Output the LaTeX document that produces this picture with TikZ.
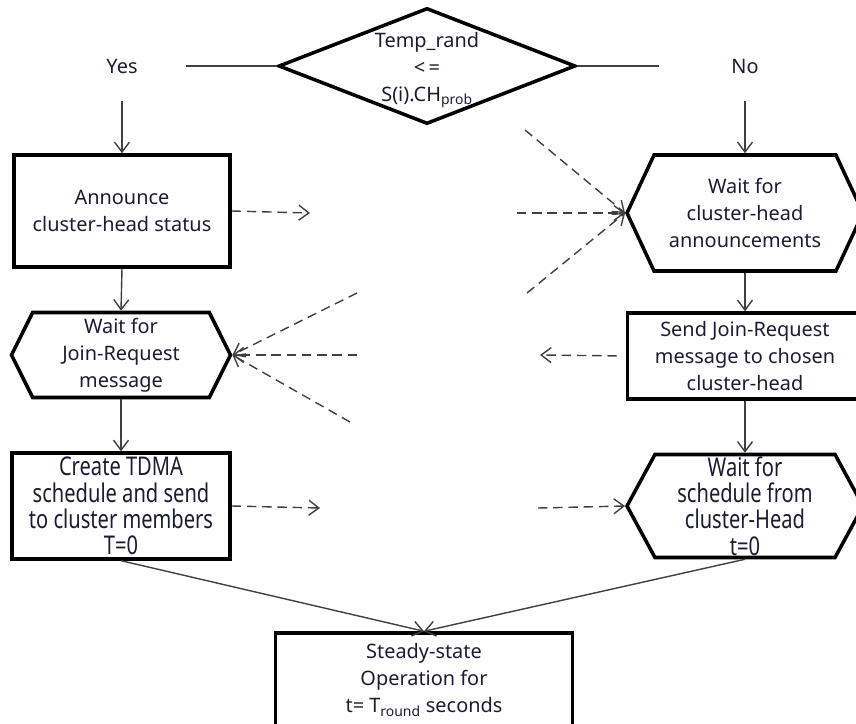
\documentclass[tikz,border=0pt]{standalone}
\usepackage{fontspec}
\setmainfont{Noto Sans}
\newfontfamily\narrowfont[FakeStretch=0.78]{Noto Sans}
\usepackage{tikz}
\usetikzlibrary{arrows.meta, positioning, shapes.geometric, shapes.symbols}
\definecolor{Ink}{HTML}{1C1C30}
\definecolor{LineGray}{HTML}{404040}

\begin{document}
\begin{tikzpicture}[x=0.03cm, y=-0.03cm, >={Straight Barb[length=3mm,width=4.5mm]}, font=\fontsize{17}{23}\selectfont, text=Ink]
        \tikzstyle{decision} = [diamond, draw=black, line width=3pt, minimum width=8.91cm, minimum height=3.48cm, inner sep=0pt]
        \tikzstyle{proc}     = [rectangle, draw=black, line width=3pt, align=center]
        \tikzstyle{waitbox}  = [signal, signal to=west and east, draw=black, line width=3pt, align=center, inner sep=0pt]
        \tikzstyle{branch}   = [minimum height=2.1cm, inner sep=0pt]
        \tikzstyle{narrow}   = [font=\narrowfont\fontsize{22}{22.5}\selectfont]
        \tikzstyle{flow}     = [->, draw=LineGray, line width=1.2pt]
        \tikzstyle{msg}      = [->, draw=LineGray, line width=1.2pt, dash pattern=on 8pt off 5pt]

        \useasboundingbox (0,0) rectangle (856,724);

        % Decision
        \node[decision, label={[align=center, yshift=-3.5pt]center:{Temp\_rand\\<\,=\\S(i).CH\textsubscript{prob}}}] (test) at (427,66) {};
        \node[branch, minimum width=3.84cm] (yes) at (122,66) {Yes};
        \node[branch, minimum width=5.16cm] (no) at (745,66) {No};

        % Cluster-head side
        \node[proc, minimum width=6.48cm, minimum height=3.36cm] (announce) at (122,211) {Announce\\cluster-head status};
        \node[waitbox, signal pointer angle=127, minimum width=6.57cm, minimum height=2.55cm] (waitjoin) at (121,355) {Wait for\\Join-Request\\message};
        \node[proc, narrow, minimum width=6.54cm, minimum height=3.09cm] (tdma) at (121,506) {Create TDMA\\schedule and send\\to cluster members\\T=0};

        % Member side
        \node[waitbox, signal pointer angle=130, minimum width=7.08cm, minimum height=3.48cm] (waitch) at (745,213) {Wait for\\cluster-head\\announcements};
        \node[proc, minimum width=7.05cm, minimum height=2.58cm] (sendjoin) at (745,356) {Send Join-Request\\message to chosen\\cluster-head};
        \node[waitbox, narrow, signal pointer angle=123, minimum width=7.08cm, minimum height=3.09cm] (waitsched) at (745,506) {Wait for\\schedule from\\cluster-Head\\t=0};

        \node[proc, minimum width=8.91cm, minimum height=2.82cm] (steady) at (424,680) {Steady-state\\Operation for\\t= T\textsubscript{round} seconds};

        % Free ends of the messages
        \coordinate (m1) at (310,213);
        \coordinate (m2) at (525,130);
        \coordinate (m3) at (517,213);
        \coordinate (m4) at (527,293);
        \coordinate (m5) at (357,293);
        \coordinate (m6) at (357,355);
        \coordinate (m7) at (350,422);
        \coordinate (m8) at (540,355);
        \coordinate (m9) at (320,508);
        \coordinate (m10) at (538,508);

        % Arrows
        \draw[draw=LineGray, line width=1.2pt] (yes.east) -- (test.west);
        \draw[draw=LineGray, line width=1.2pt] (test.east) -- (no.west);
        \draw[flow] (yes.south) -- (announce.north);
        \draw[flow] (announce.south) -- (waitjoin.north);
        \draw[flow] (waitjoin.south) -- (tdma.north);
        \draw[flow] (no.south) -- (waitch.north);
        \draw[flow] (waitch.south) -- (sendjoin.north);
        \draw[flow] (sendjoin.south) -- (waitsched.north);
        \draw[flow] (tdma.south) -- (steady.north);
        \draw[flow] (waitsched.south) -- (steady.north);

        \draw[msg] (announce.east) -- (m1);
        \draw[msg] (m2) -- (waitch.west);
        \draw[msg] (m3) -- (waitch.west);
        \draw[msg] (m4) -- (waitch.west);
        \draw[msg] (m5) -- (waitjoin.east);
        \draw[msg] (m6) -- (waitjoin.east);
        \draw[msg] (m7) -- (waitjoin.east);
        \draw[msg, shorten <=0.27cm] (sendjoin.west) -- (m8);
        \draw[msg] (tdma.east) -- (m9);
        \draw[msg] (m10) -- (waitsched.west);
    \end{tikzpicture}
\end{document}
